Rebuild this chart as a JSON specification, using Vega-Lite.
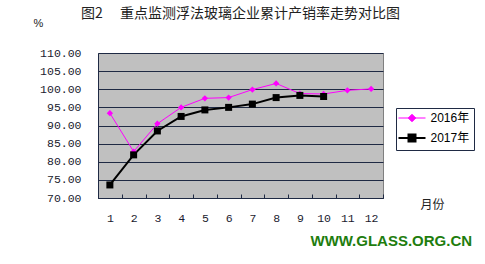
{
  "$schema": "https://vega.github.io/schema/vega-lite/v6.json",
  "autosize": "none",
  "width": 285,
  "height": 145,
  "padding": {"left": 98, "top": 53, "right": 102, "bottom": 66},
  "background": "white",
  "title": {
    "text": "图2　 重点监测浮法玻璃企业累计产销率走势对比图",
    "frame": "group",
    "anchor": "middle",
    "offset": -4,
    "font": "Noto Sans CJK SC",
    "fontSize": 14,
    "fontWeight": "normal",
    "color": "#222222"
  },
  "config": {
    "view": {"stroke": "#808080", "fill": "#C0C0C0"}
  },
  "data": {
    "values": [
      {"month": 1, "series": "2016年", "value": 93.4},
      {"month": 2, "series": "2016年", "value": 82.8},
      {"month": 3, "series": "2016年", "value": 90.5},
      {"month": 4, "series": "2016年", "value": 95.0},
      {"month": 5, "series": "2016年", "value": 97.5},
      {"month": 6, "series": "2016年", "value": 97.7},
      {"month": 7, "series": "2016年", "value": 99.9},
      {"month": 8, "series": "2016年", "value": 101.6},
      {"month": 9, "series": "2016年", "value": 98.8},
      {"month": 10, "series": "2016年", "value": 98.7},
      {"month": 11, "series": "2016年", "value": 99.7},
      {"month": 12, "series": "2016年", "value": 100.1},
      {"month": 1, "series": "2017年", "value": 73.6},
      {"month": 2, "series": "2017年", "value": 81.9},
      {"month": 3, "series": "2017年", "value": 88.5},
      {"month": 4, "series": "2017年", "value": 92.5},
      {"month": 5, "series": "2017年", "value": 94.3},
      {"month": 6, "series": "2017年", "value": 95.0},
      {"month": 7, "series": "2017年", "value": 95.9},
      {"month": 8, "series": "2017年", "value": 97.7},
      {"month": 9, "series": "2017年", "value": 98.3},
      {"month": 10, "series": "2017年", "value": 98.0}
    ]
  },
  "layer": [
    {
      "mark": {"type": "line"},
      "encoding": {
        "x": {
          "field": "month",
          "type": "ordinal",
          "scale": {"type": "band", "paddingInner": 0, "paddingOuter": 0},
          "axis": {
            "title": "月份",
            "titleX": 334,
            "titleY": 6,
            "titleAlign": "center",
            "titleBaseline": "middle",
            "titleFont": "Noto Sans CJK SC",
            "titleFontSize": 12,
            "titleFontWeight": "normal",
            "titleColor": "#222222",
            "labelAngle": 0,
            "ticks": true,
            "tickBand": "extent",
            "tickSize": -4,
            "tickWidth": 1,
            "tickColor": "#1F2A44",
            "labelPadding": 18,
            "labelFont": "Liberation Mono",
            "labelFontSize": 11.5,
            "labelColor": "#1a1a2e",
            "labelOverlap": false,
            "domainColor": "#1F2A44",
            "grid": false,
            "zindex": 1
          }
        },
        "y": {
          "field": "value",
          "type": "quantitative",
          "scale": {"domain": [70, 110], "nice": false, "zero": false},
          "axis": {
            "title": "%",
            "titleAngle": 0,
            "titleX": -60,
            "titleY": -30,
            "titleAlign": "center",
            "titleBaseline": "middle",
            "titleFont": "Liberation Sans",
            "titleFontSize": 11,
            "titleFontWeight": "normal",
            "titleColor": "#222222",
            "values": [70, 75, 80, 85, 90, 95, 100, 105, 110],
            "tickCount": 20,
            "format": ".2f",
            "ticks": false,
            "labelOverlap": false,
            "labelPadding": 17,
            "labelFont": "Liberation Mono",
            "labelFontSize": 11.5,
            "labelColor": "#1a1a2e",
            "domainColor": "#1F2A44",
            "grid": true,
            "gridColor": "#1F2A44",
            "gridOpacity": 1
          }
        },
        "color": {
          "field": "series",
          "type": "nominal",
          "scale": {"domain": ["2016年", "2017年"], "range": ["#FF00FF", "#000000"]},
          "legend": {
            "orient": "none",
            "legendX": 298,
            "legendY": 55,
            "title": null,
            "fillColor": "white",
            "strokeColor": "#1F2A44",
            "padding": 4,
            "rowPadding": 6,
            "symbolOffset": 6,
            "labelOffset": 12.5,
            "labelFont": "Liberation Sans, Noto Sans CJK SC",
            "labelFontSize": 12,
            "labelColor": "#000000",
            "symbolSize": 100,
            "encode": {
              "symbols": {
                "update": {
                  "shape": {"signal": "datum.value === '2016年' ? 'M-2.7,0H2.7M0,-0.75L0.75,0L0,0.75L-0.75,0Z' : 'M-2.7,0H2.7M-0.7,-0.7H0.7V0.7H-0.7Z'"},
                  "strokeWidth": {"signal": "datum.value === '2016年' ? 1 : 2"},
                  "stroke": {"signal": "datum.value === '2016年' ? '#FF00FF' : '#000000'"},
                  "fill": {"signal": "datum.value === '2016年' ? '#FF00FF' : '#000000'"},
                  "opacity": {"value": 1}
                }
              }
            }
          }
        },
        "strokeWidth": {
          "field": "series",
          "type": "nominal",
          "scale": {"domain": ["2016年", "2017年"], "range": [1, 2]},
          "legend": null
        }
      }
    },
    {
      "transform": [{"filter": "datum.series === '2016年'"}],
      "mark": {"type": "point", "filled": true, "opacity": 1, "shape": "diamond", "size": 40},
      "encoding": {
        "x": {"field": "month", "type": "ordinal"},
        "y": {"field": "value", "type": "quantitative"},
        "color": {"field": "series", "type": "nominal"}
      }
    },
    {
      "transform": [{"filter": "datum.series === '2017年'"}],
      "mark": {"type": "point", "filled": true, "opacity": 1, "shape": "square", "size": 49},
      "encoding": {
        "x": {"field": "month", "type": "ordinal"},
        "y": {"field": "value", "type": "quantitative"},
        "color": {"field": "series", "type": "nominal"}
      }
    },
    {
      "data": {"values": [{"site": "WWW.GLASS.ORG.CN"}]},
      "mark": {
        "type": "text",
        "align": "right",
        "baseline": "middle",
        "dx": 101,
        "font": "Liberation Sans",
        "fontSize": 15,
        "fontWeight": "bold",
        "color": "#1E7D0E",
        "clip": false
      },
      "encoding": {
        "x": {"datum": 12, "type": "ordinal"},
        "y": {"datum": 58.1, "type": "quantitative"},
        "text": {"field": "site"}
      }
    }
  ]
}
